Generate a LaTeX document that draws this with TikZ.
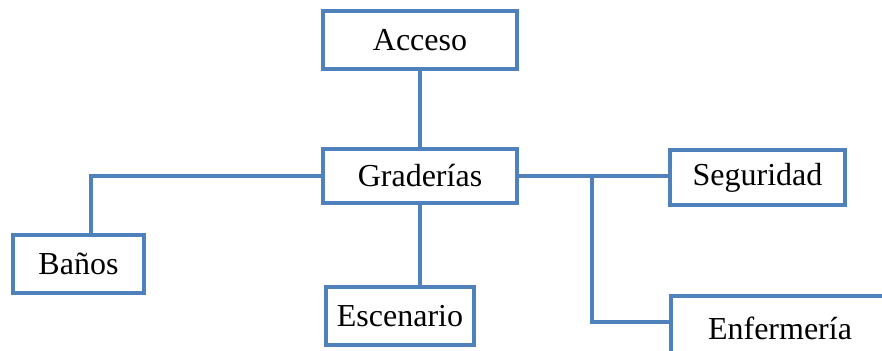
\documentclass[tikz,border=0pt]{standalone}
\usepackage{fontspec}
\setmainfont{Liberation Serif}
\definecolor{boxblue}{HTML}{4F81BD}
\begin{document}
\begin{tikzpicture}[x=0.75pt,y=-0.75pt,
  box/.style={draw=boxblue,line width=3pt,fill=white,inner sep=0pt,font=\fontsize{24}{28}\selectfont},
  link/.style={draw=boxblue,line width=3pt}]
\useasboundingbox (0,0) rectangle (882,350);
\node[box,minimum width=145pt,minimum height=43pt] (acc) at (420,40) {Acceso};
\node[box,minimum width=145pt,minimum height=40pt] (grad) at (420,176) {Graderías};
\node[box,minimum width=131pt,minimum height=41pt] (seg) at (757.5,177.5) {Seguridad};
\node[box,minimum width=98pt,minimum height=43pt] (ban) at (78.5,264) {Baños};
\node[box,minimum width=111pt,minimum height=43pt] (esc) at (400,316) {Escenario};
\node[box,minimum width=163pt,minimum height=48pt] (enf) at (780,328) {Enfermería};
\coordinate (bj) at (91,0);
\coordinate (j) at (592,177);
\coordinate (ej) at (592,322);
\draw[link] (acc.south) -- (grad.north);
\draw[link] (grad.south) -- (grad.south |- esc.north);
\draw[link] (grad.west) -- (grad.west -| bj) -- (bj |- ban.north);
\draw[link] (grad.east) -- (grad.east -| seg.west);
\draw[link] (j) -- (ej) -- (ej -| enf.west);
\end{tikzpicture}
\end{document}
